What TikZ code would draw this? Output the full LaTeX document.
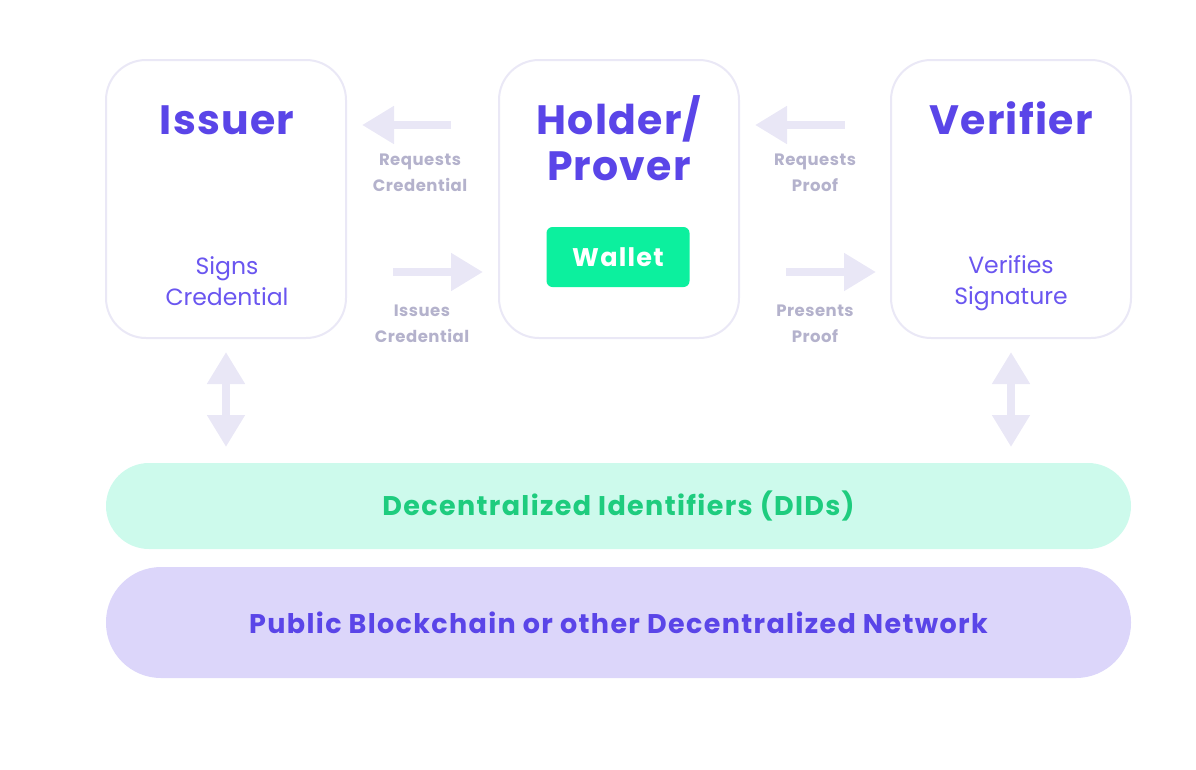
\documentclass[tikz,border=0pt]{standalone}
\usepackage{fontspec}
\setmainfont{Poppins}[LetterSpace=3]
\newfontfamily\widefont{Poppins}[LetterSpace=5]
\newfontfamily\plainfont{Poppins}
\usetikzlibrary{arrows.meta}
\definecolor{ink}{HTML}{5A45E8}
\definecolor{inklight}{HTML}{6A56F0}
\definecolor{lbl}{HTML}{B4B2CC}
\definecolor{arr}{HTML}{E9E7F6}
\definecolor{edge}{HTML}{EAE8F6}
\definecolor{didfill}{HTML}{CDFAEC}
\definecolor{didtext}{HTML}{1ECC7E}
\definecolor{netfill}{HTML}{DCD6FA}
\definecolor{walletc}{HTML}{0CF09E}
\tikzset{
  card/.style={draw=edge, line width=2pt, fill=white, rounded corners=40pt, minimum width=240pt, minimum height=278pt},
  title/.style={text=ink, font=\bfseries\fontsize{41}{46}\selectfont, align=center},
  sub/.style={text=inklight, font=\plainfont\fontsize{23.5}{31}\selectfont, align=center},
  lab/.style={text=lbl, font=\bfseries\fontsize{16.5}{26}\selectfont, align=center},
  fat/.style={draw=arr, line width=8pt, -{Triangle[width=36pt,length=32pt]}},
  fatboth/.style={draw=arr, line width=8pt, {Triangle[width=36pt,length=32pt]}-{Triangle[width=36pt,length=32pt]}},
  bar/.style={minimum width=1025pt, inner sep=0pt, font=\widefont\bfseries\fontsize{27}{30}\selectfont}
}
\begin{document}
\begin{tikzpicture}[x=1pt,y=-1pt]
\useasboundingbox (0,0) rectangle (1196,769);
% cards
\node[card] (issuer) at (226,199) {};
\node[card] (holder) at (619,199) {};
\node[card] (verifier) at (1011,199) {};
% titles
\node[title] (tissuer) at (227,120) {Issuer};
\node[title] (tholder) at (619,138) {Holder/\\Prover};
\node[title] (tverifier) at (1011,118) {Verifier};
\node[sub] (sissuer) at (227,281) {Signs\\Credential};
\node[sub] (sverifier) at (1011,283) {Verifies\\Signature};
% wallet
\node[fill=walletc, rounded corners=6pt, minimum width=143pt, minimum height=60pt, text=white, font=\widefont\bfseries\fontsize{25.5}{28}\selectfont] (wallet) at (618,257) {Wallet};
% horizontal arrows
\coordinate (rc1) at (451,125); \coordinate (rc2) at (362,125);
\coordinate (ic1) at (393,272); \coordinate (ic2) at (483,272);
\coordinate (rp1) at (845,125); \coordinate (rp2) at (755,125);
\coordinate (pp1) at (786,272); \coordinate (pp2) at (876,272);
\draw[fat] (rc1) -- (rc2);
\draw[fat] (ic1) -- (ic2);
\draw[fat] (rp1) -- (rp2);
\draw[fat] (pp1) -- (pp2);
\node[lab] (lrc) at (420,173) {Requests\\Credential};
\node[lab] (lic) at (422,324) {Issues\\Credential};
\node[lab] (lrp) at (815,173) {Requests\\Proof};
\node[lab] (lpp) at (815,324) {Presents\\Proof};
% bars
\node[bar, fill=didfill, rounded corners=43pt, minimum height=86pt, text=didtext] (did) at (618.5,506) {Decentralized Identifiers (DIDs)};
\node[bar, fill=netfill, rounded corners=55pt, minimum height=111pt, text=ink] (net) at (618.5,622.5) {Public Blockchain or other Decentralized Network};
% vertical double arrows
\coordinate (va1) at (226,352); \coordinate (va2) at (226,447);
\coordinate (vb1) at (1011,352); \coordinate (vb2) at (1011,447);
\draw[fatboth] (va1) -- (va2);
\draw[fatboth] (vb1) -- (vb2);
\end{tikzpicture}
\end{document}
